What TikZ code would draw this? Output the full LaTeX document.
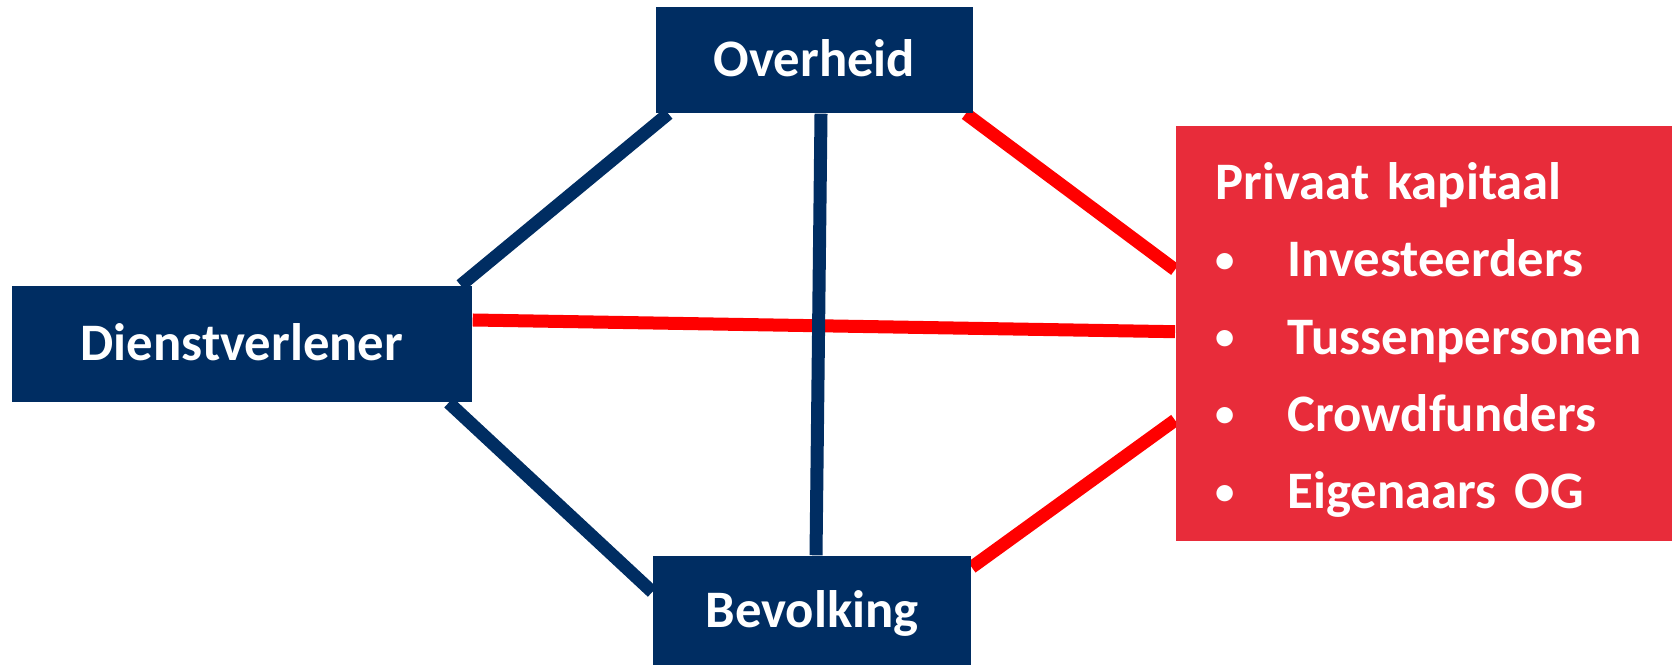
\documentclass[tikz,border=0pt]{standalone}
\usepackage{fontspec}
\setmainfont{Carlito}
\usetikzlibrary{backgrounds}

\definecolor{navy}{RGB}{0,45,98}
\definecolor{boxred}{RGB}{232,44,58}

\tikzset{
  actor/.style={fill=navy, text=white, font=\bfseries\fontsize{15}{18}\selectfont,
    text height=0.34cm, text depth=0pt, inner sep=0pt},
  link/.style={line width=0.13cm, draw=navy},
  money/.style={line width=0.13cm, draw=red}
}
\newcommand{\privitem}[1]{\makebox[0.72cm][l]{\raisebox{1.3pt}{\fontsize{11}{11}\selectfont\textbullet}}#1}

\begin{document}
\begin{tikzpicture}
  \useasboundingbox (0,0) rectangle (16.72,-6.65);
  \node (over) [actor, minimum width=3.17cm, minimum height=1.06cm] at (8.145,-0.60) {Overheid};
  \node (dienst) [actor, minimum width=4.60cm, minimum height=1.16cm] at (2.42,-3.44) {Dienstverlener};
  \node (bev) [actor, minimum width=3.18cm, minimum height=1.09cm] at (8.12,-6.105) {Bevolking};
  \node (priv) [fill=boxred, text=white, anchor=north west, minimum width=4.97cm, minimum height=4.15cm,
    text width=4.17cm, inner xsep=0.4cm, align=left, font=\bfseries\fontsize{15}{22}\selectfont]
    at (11.75,-1.25)
    {\rule{0pt}{14.5pt}Privaat kapitaal\\ \privitem{Investeerders}\\ \privitem{Tussenpersonen}\\ \privitem{Crowdfunders}\\ \privitem{Eigenaars OG}};
  \begin{scope}[on background layer]
    \path[money]
    ([xshift=-0.08cm]over.south east) edge ([yshift=0.635cm]priv.west)
    ([yshift=0.24cm]dienst.east) edge ([yshift=0.015cm]priv.west)
    ([yshift=-0.12cm]bev.north east) edge ([yshift=-0.87cm]priv.west);
    \path[link]
    ([xshift=0.13cm]over.south west) edge ([xshift=-0.12cm]dienst.north east)
    ([xshift=0.065cm]over.south) edge ([xshift=0.04cm]bev.north)
    ([xshift=-0.24cm]dienst.south east) edge ([yshift=0.185cm]bev.west);
  \end{scope}
\end{tikzpicture}
\end{document}
